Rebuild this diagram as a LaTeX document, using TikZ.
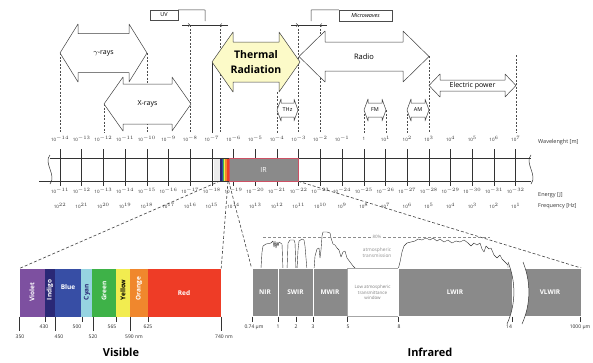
\documentclass[tikz,border=0pt]{standalone}
\usepackage{fontspec}
\setmainfont{Open Sans}
\usetikzlibrary{arrows.meta,backgrounds}

\definecolor{thermalfill}{RGB}{252,250,200}
\definecolor{irgray}{RGB}{138,138,138}
\definecolor{irrim}{RGB}{205,80,100}
\definecolor{cviolet}{RGB}{125,80,160}
\definecolor{cindigo}{RGB}{42,40,118}
\definecolor{cblue}{RGB}{55,78,165}
\definecolor{ccyan}{RGB}{150,212,225}
\definecolor{cgreen}{RGB}{62,178,72}
\definecolor{cyellow}{RGB}{242,236,80}
\definecolor{corange}{RGB}{240,135,45}
\definecolor{cred}{RGB}{238,60,38}

\tikzset{
  band/.style={draw=black!75, fill=white, line width=0.5pt, line join=round},
  bandtext/.style={font=\fontsize{7}{8}\selectfont, align=center, inner sep=0pt},
  guide/.style={draw=black!70, line width=0.45pt, dash pattern=on 2pt off 1.5pt},
  tick/.style={draw=black!80, line width=0.5pt},
  dimtip/.style={-{Straight Barb[length=1.5pt,width=3pt]}},
  lbl/.style={font=\fontsize{4.5}{5}\selectfont, inner sep=0pt, text=black!80},
  scalelbl/.style={font=\fontsize{5}{6}\selectfont, inner sep=0pt, text=black!85},
  zoomline/.style={draw=black!75, line width=0.6pt, dash pattern=on 3pt off 2pt},
  vistext/.style={font=\fontsize{6.5}{7}\selectfont\bfseries, text=white, inner sep=0pt},
  irbox/.style={fill=irgray, draw=white, line width=0.8pt, inner sep=0pt,
    minimum height=48, text=white, font=\fontsize{6.5}{7}\selectfont\bfseries},
  tagbox/.style={draw=black!70, inner sep=0pt, font=\fontsize{5.5}{6}\selectfont},
}

% double headed band arrow: [style]{name}{x left}{x right}{y}{head half}{shaft half}{head length}{text}
\newcommand{\dblarrow}[9][]{%
  \draw[band,#1] (#3,#5) -- ({#3+#8},{#5-#6}) -- ({#3+#8},{#5-#7})
    -- ({#4-#8},{#5-#7}) -- ({#4-#8},{#5-#6}) -- (#4,#5)
    -- ({#4-#8},{#5+#6}) -- ({#4-#8},{#5+#7}) -- ({#3+#8},{#5+#7})
    -- ({#3+#8},{#5+#6}) -- cycle;
  \node[bandtext,#1] (#2) at ({(#3+#4)/2},#5) {#9};
}

\begin{document}
\begin{tikzpicture}[x=1pt,y=-1pt]
\useasboundingbox (0,0) rectangle (593,362);

% dashed guides down to the wavelength scale
\foreach \x/\y in {60/53, 147/53, 104/104, 190/25, 220/25, 277/92, 298/25, 320/25,
                   364/110, 386/110, 407/110, 429/56, 516/55}
  \draw[guide] (\x,\y) -- (\x,133);
\draw[tick] (212,62) -- (212,133);

% UV and microwaves tags
\node[tagbox, minimum width=28, minimum height=10] (uv) at (164,15) {UV};
\draw[tick] (uv.north east) -- (205,10) -- (205,21);
\draw[tick,dimtip] (182,25) -- (190,25);
\draw[tick] (190,25) -- (220,25);
\draw[tick,dimtip] (228,25) -- (220,25);

\node[tagbox, minimum width=53, minimum height=11] (mw) at (365.5,15.5) {\itshape Microwaves};
\draw[tick] (mw.north west) -- (311,10) -- (311,21);
\draw[tick,dimtip] (291,25) -- (298,25);
\draw[tick] (298,25) -- (320,25);
\draw[tick,dimtip] (327,25) -- (320,25);

% bands
\dblarrow{gamma}{60}{147}{53}{29}{19.5}{18}{$\gamma$-rays}
\dblarrow{xray}{104}{191}{104}{27}{20}{19}{X-rays}
\dblarrow[fill=thermalfill, font=\fontsize{10.5}{15}\selectfont\bfseries]{thermal}{212}{300}{62}{30}{20}{21}{Thermal\\Radiation}
\dblarrow[font=\fontsize{7.5}{8}\selectfont]{radio}{299}{429}{56.5}{25.5}{14.5}{26}{Radio}
\dblarrow{epower}{429}{516}{85.5}{11.5}{5.5}{11}{Electric power}
\dblarrow[font=\fontsize{5.5}{6}\selectfont]{thz}{277}{298}{110}{11}{7}{4}{THz}
\dblarrow[font=\fontsize{5.5}{6}\selectfont]{fm}{364}{386}{110}{11}{7}{4}{FM}
\dblarrow[font=\fontsize{5.5}{6}\selectfont]{am}{407}{429}{110}{11}{7}{4}{AM}

% main scale bar
\fill[gray!15] (214,158) rectangle (220,181);
\fill[cindigo] (220,158) rectangle (222,181);
\fill[cblue] (222,158) rectangle (223,181);
\fill[cgreen] (223,158) rectangle (224,181);
\fill[cyellow] (224,158) rectangle (225,181);
\fill[corange] (225,158) rectangle (226.5,181);
\fill[cred] (226.5,158) rectangle (229,181);
\draw[tick] (50,158) -- (531,158);
\draw[tick] (39,181) -- (531,181);
\draw[tick] (50,155) .. controls (43,163) and (57,175) .. (50,184);
\draw[tick] (531,155) .. controls (524,163) and (538,175) .. (531,184);
\foreach \i in {0,...,21}
  \draw[tick] ({60+21.7*\i},149) -- ({60+21.7*\i},186);
\node[draw=irrim, fill=irgray, line width=0.6pt, minimum width=69, minimum height=23,
  inner sep=0pt, text=white, font=\fontsize{7}{8}\selectfont] (ir) at (263.5,169.5) {IR};

% scale labels
\foreach \i in {0,...,21} {
  \pgfmathtruncatemacro\we{\i-14}
  \pgfmathtruncatemacro\ee{-11-\i}
  \pgfmathtruncatemacro\fe{22-\i}
  \node[lbl] (wl\i) at ({60+21.7*\i},139) {\ifnum\we=0 1\else 10$^{\we}$\fi};
  \node[lbl] (en\i) at ({60+21.7*\i},191) {10$^{\ee}$};
  \node[lbl] (fr\i) at ({60+21.7*\i},206) {10$^{\fe}$};
}
\node[lbl, anchor=west, font=\fontsize{5.5}{6}\selectfont] (wltitle) at (538,142) {Wavelenght [m]};
\node[lbl, anchor=west, font=\fontsize{5.5}{6}\selectfont] (entitle) at (538,195) {Energy [J]};
\node[lbl, anchor=west, font=\fontsize{5.5}{6}\selectfont] (frtitle) at (538,206) {Frequency [Hz]};

% visible spectrum
\foreach \xa/\xb/\col in {20/45/cviolet, 45/55/cindigo, 55/81/cblue, 81/92/ccyan,
                          92/116/cgreen, 116/130/cyellow, 130/148/corange, 148/221/cred}
  \fill[\col] (\xa,268.5) rectangle (\xb,316.5);
\node[minimum width=201, minimum height=48, inner sep=0pt] (visible) at (120.5,292.5) {};
\node[vistext, rotate=90] (violet) at (32,292) {Violet};
\node[vistext, rotate=90] (indigo) at (50,290) {Indigo};
\node[vistext] (blue) at (68,287) {Blue};
\node[vistext, rotate=90, text=cindigo] (cyan) at (87,292) {Cyan};
\node[vistext, rotate=90] (green) at (104,291) {Green};
\node[vistext, rotate=90, text=black] (yellow) at (123,290) {Yellow};
\node[vistext, rotate=90] (orange) at (139,289) {Orange};
\node[vistext] (red) at (184,293) {Red};
\foreach \x/\lx/\t [count=\k] in {19/20/350, 55/59/450, 93/93/520, 130/134/590 nm, 221/224/740 nm} {
  \draw[tick] (\x,316.5) -- (\x,331);
  \node[scalelbl] (vlo\k) at (\lx,337) {\t};
}
\foreach \x/\lx/\t [count=\k] in {45/44/430, 82/77/500, 116/112/565, 148/148/625} {
  \draw[tick] (\x,316.5) -- (\x,322);
  \node[scalelbl] (vhi\k) at (\lx,327) {\t};
}
\node[font=\fontsize{11}{12}\selectfont\bfseries, inner sep=0pt] (vistitle) at (121,352) {Visible};

% atmospheric transmission
\filldraw[fill=white, draw=black!80, line width=0.4pt, line join=round]
  (261,272) -- (261,268) -- (262,252) -- (263,246) -- (266,244) -- (271,243) -- (273,241)
  -- (274,247) -- (275,241) -- (276,248) -- (277,242) -- (278,246) -- (279,242) -- (282,244)
  -- (283,270) -- (287,270) -- (288,243) -- (290,240) -- (294,240) -- (295,243) -- (296,270)
  -- (297,270) -- (298,250) -- (299,241) -- (302,239) -- (304,240) -- (305,246) -- (307,270)
  -- (314,270) -- (315,256) -- (317,249) -- (319,248) -- (320,258) -- (321,250) -- (322,236)
  -- (323,232) -- (327,232) -- (330,233) -- (331,238) -- (333,244) -- (335,245) -- (337,248)
  -- (339,250) -- (341,257) -- (343,252) -- (345,251) -- (347,258) -- (350,262) -- (353,266)
  -- (357,270) -- (398,270) -- (400,262) -- (402,252) -- (404,246) -- (407,243) -- (411,242)
  -- (415,241) -- (418,239) -- (422,240) -- (426,238) -- (430,240) -- (433,238) -- (437,241)
  -- (440,239) -- (444,242) -- (448,240) -- (452,243) -- (456,241) -- (460,242) -- (464,240)
  -- (468,243) -- (471,246) -- (474,243) -- (477,245) -- (480,243) -- (482,249) -- (484,252)
  -- (486,246) -- (489,249) -- (491,248) -- (494,255) -- (497,258) -- (500,255) -- (502,259)
  -- (505,262) -- (508,265) -- (508,272) -- cycle;
\draw[draw=black!45, line width=0.5pt, dash pattern=on 3pt off 2pt] (263,237) -- (490,237);
\node[lbl, fill=white, text=black!45, inner xsep=1pt] (eighty) at (377,237) {80\%};
\node[lbl, text=black!45, align=center, font=\fontsize{4.8}{6}\selectfont] (atm) at (377,253) {atmospheric\\transmission};

% infrared bands
\node[irbox, minimum width=26] (nir) at (265,292.5) {NIR};
\node[irbox, minimum width=35] (swir) at (295.5,292.5) {SWIR};
\node[irbox, minimum width=34] (mwir) at (330,292.5) {MWIR};
\node[draw=black!35, fill=white, line width=0.6pt, minimum width=51, minimum height=48, inner sep=0pt,
  align=center, text=black!50, font=\fontsize{4.5}{5.8}\selectfont] (lowwin) at (372.5,292.5)
  {Low atmospheric\\transmittance\\window};
\node[irbox, minimum width=114] (lwir) at (455,292.5) {LWIR};
\node[irbox, minimum width=62] (vlwir) at (550,292.5) {VLWIR};
\fill[white] (508,262) .. controls (516,282) and (516,304) .. (507,324) -- (522,324)
  .. controls (531,304) and (531,282) .. (523,262) -- cycle;
\draw[tick] (508,262) .. controls (516,282) and (516,304) .. (507,324);
\draw[tick] (523,262) .. controls (531,282) and (531,304) .. (522,324);
\foreach \x/\lx/\t [count=\k] in {252/254/0.74 µm, 278/278/1, 296/296/2, 313/313/3,
                                   347/348/5, 398/399/8, 512/509/14, 580/580/1000 µm} {
  \draw[tick] (\x,316.5) -- (\x,322);
  \node[scalelbl] (irl\k) at (\lx,327) {\t};
}
\node[font=\fontsize{11}{12}\selectfont\bfseries, inner sep=0pt] (irtitle) at (430,352) {Infrared};

% zoom lines
\begin{scope}[on background layer]
\draw[zoomline] (220,181) -- (visible.north west);
\draw[zoomline] (228,181) -- (visible.north east);
\draw[zoomline] (ir.south west) -- (nir.north west);
\draw[zoomline] (ir.south east) -- (vlwir.north east);
\end{scope}

\end{tikzpicture}
\end{document}
